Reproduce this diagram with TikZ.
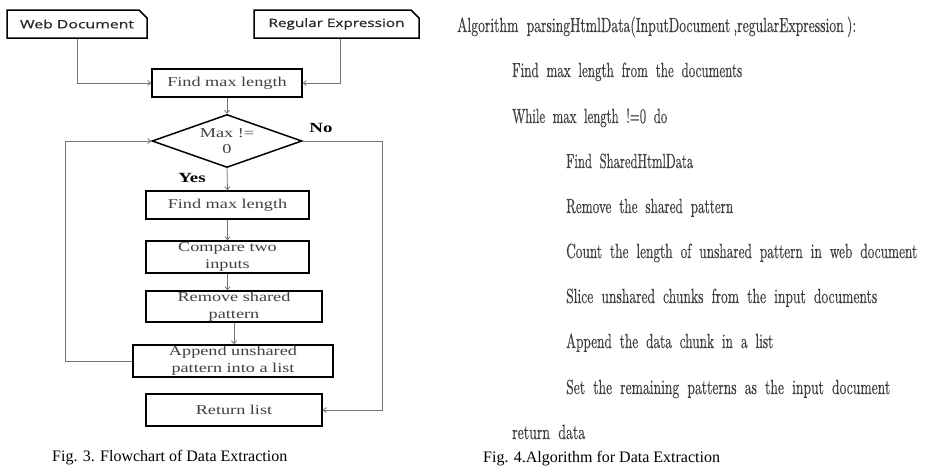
\documentclass[tikz,border=0pt]{standalone}
\usepackage{fontspec}
\usepackage{graphicx}
\usetikzlibrary{arrows.meta,shapes.geometric,shapes.misc}
\newfontfamily\boxf[FakeStretch=1.35]{Liberation Serif}
\newfontfamily\capf{Liberation Serif}
\newfontfamily\sansf[FakeStretch=1.25, FakeBold=0.5]{Open Sans}
\newfontfamily\algf[FakeStretch=0.7, WordSpace=1.8, FakeBold=0.4]{lmroman10-regular.otf}
\newcommand{\algline}[2]{\resizebox{#1}{\height}{#2}}
\begin{document}
\begin{tikzpicture}[x=1pt,y=-1pt,
  fbox/.style={draw=black, line width=1.5pt, rectangle, inner sep=0pt, align=center,
    font=\boxf\fontsize{13.5}{17}\selectfont, text=black!75},
  inbox/.style={draw=black, line width=1.5pt, chamfered rectangle,
    chamfered rectangle corners=north east, chamfered rectangle xsep=4pt,
    chamfered rectangle ysep=4pt, inner sep=0pt,
    font=\sansf\fontsize{11.5}{13}\selectfont, text=black!85},
  dm/.style={diamond, draw=black, line width=1.5pt, aspect=2.83, minimum width=150pt,
    minimum height=53pt, inner sep=0pt, align=center,
    font=\boxf\fontsize{13.5}{16}\selectfont, text=black!75},
  lbl/.style={inner sep=0pt, font=\boxf\bfseries\fontsize{14}{16}\selectfont},
  conn/.style={draw=black!55, line width=0.8pt, -{Straight Barb[length=3pt,width=5pt]}},
  alg/.style={inner sep=0pt, anchor=base west, text=black!75, font=\algf\fontsize{20.5}{24}\selectfont},
  figcap/.style={inner sep=0pt, anchor=base west, font=\capf\fontsize{16}{18}\selectfont}]
\useasboundingbox (0,0) rectangle (929,474);
\fill[white] (0,0) rectangle (929,474);

% flowchart
\node[inbox, minimum width=140pt, minimum height=28pt] (wd) at (77,24) {\resizebox{114pt}{\height}{Web Document}};
\node[inbox, minimum width=165pt, minimum height=28pt] (re) at (336.5,24) {\resizebox{136pt}{\height}{Regular Expression}};
\node[fbox, minimum width=150pt, minimum height=28pt] (fm1) at (227,83) {Find max length};
\node[dm] (dm) at (227,141) {Max !=\\0};
\node[fbox, minimum width=163pt, minimum height=28pt] (fm2) at (227.5,205) {Find max length};
\node[fbox, minimum width=163pt, minimum height=32pt] (cp) at (227.5,257) {Compare two\\inputs};
\node[fbox, minimum width=176pt, minimum height=31pt] (rs) at (234,306.5) {Remove shared\\pattern};
\node[fbox, minimum width=200pt, minimum height=32pt] (ap) at (233,361) {Append unshared\\pattern into a list};
\node[fbox, minimum width=176pt, minimum height=32pt] (rl) at (234,410) {Return list};
\node[lbl] (no) at (321,128) {No};
\node[lbl] (yes) at (192,178) {Yes};
\coordinate (nc) at (382,141);

\draw[conn] (wd.south) |- (fm1.west);
\draw[conn] ([xshift=3.5pt]re.south) |- (fm1.east);
\draw[conn] (fm1.south) -- (dm.north);
\draw[conn] (dm.south) -- (fm2.north);
\draw[conn] (fm2.south) -- (cp.north);
\draw[conn] (cp.south) -- (cp.south |- rs.north);
\draw[conn] (rs.south) -- (rs.south |- ap.north);
\draw[conn] (ap.west) -- ++(-67,0) |- (dm.west);
\draw[conn] (dm.east) -- (nc) |- (rl.east);

\node[figcap] (c1) at (52,461) {Fig. 3. Flowchart of Data Extraction};

% algorithm
\node[alg] (a1) at (457,32) {\algline{399pt}{Algorithm parsingHtmlData(InputDocument\,,regularExpression\,):}};
\node[alg] (a2) at (512,77) {\algline{230pt}{Find max length from the documents}};
\node[alg] (a3) at (512,123) {\algline{155pt}{While max length !=0 do}};
\node[alg] (a4) at (566,168) {\algline{127pt}{Find SharedHtmlData}};
\node[alg] (a5) at (566,213) {\algline{167pt}{Remove the shared pattern}};
\node[alg] (a6) at (566,258) {\algline{351pt}{Count the length of unshared pattern in web document}};
\node[alg] (a7) at (566,303) {\algline{311pt}{Slice unshared chunks from the input documents}};
\node[alg] (a8) at (566,348) {\algline{207pt}{Append the data chunk in a list}};
\node[alg] (a9) at (566,394) {\algline{324pt}{Set the remaining patterns as the input document}};
\node[alg] (a10) at (512,439) {\algline{73pt}{return data}};
\node[figcap] (c2) at (483,462) {Fig. 4.Algorithm for Data Extraction};
\end{tikzpicture}
\end{document}
